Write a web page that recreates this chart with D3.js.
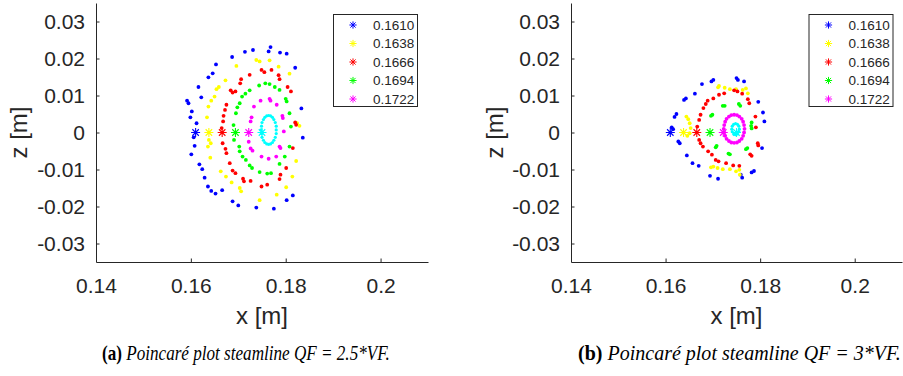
<!DOCTYPE html>
<html><head><meta charset="utf-8">
<script src="https://cdn.jsdelivr.net/npm/d3@7"></script>
<style>body{margin:0;background:#fff} svg{display:block}</style>
</head><body>
<svg id="chart" width="903" height="376"></svg>
<script>
// ---------- data ----------
const seriesLabels = ["0.1610","0.1638","0.1666","0.1694","0.1722"];
const startX = [0.1610,0.1638,0.1666,0.1694,0.1722,0.1750];
const xTicks = [0.14,0.16,0.18,0.2];
const zTicks = [-0.03,-0.02,-0.01,0,0.01,0.02,0.03];
const xDomain = [0.14,0.21];
const zDomain = [-0.035,0.035];
const captionA = {tag:"(a)", text:" Poincaré plot steamline QF = 2.5*VF."};
const captionB = {tag:"(b)", text:" Poincaré plot steamline QF = 3*VF."};

// panel (a): QF = 2.5*VF
const aBlue = [[0.1687,0.0204],[0.1714,0.0218],[0.1731,0.0223],[0.1764,0.0219],[0.1768,0.0231],[0.1788,0.0216],[0.1802,0.0213],[0.1820,0.0175],[0.1833,0.0065],[0.1836,-0.0014],[0.1653,0.0184],[0.1646,0.0160],[0.1637,0.0149],[0.1616,0.0123],[0.1622,0.0095],[0.1592,0.0086],[0.1595,0.0079],[0.1602,0.0057],[0.1599,0.0041],[0.1612,0.0025],[0.1606,-0.0013],[0.1608,-0.0036],[0.1601,-0.0059],[0.1618,-0.0086],[0.1624,-0.0099],[0.1629,-0.0122],[0.1636,-0.0146],[0.1643,-0.0158],[0.1652,-0.0165],[0.1666,-0.0156],[0.1688,-0.0186],[0.1700,-0.0197],[0.1738,-0.0203],[0.1775,-0.0206],[0.1802,-0.0183],[0.1815,-0.0170]];
const aYellow = [[0.1696,0.0180],[0.1673,0.0141],[0.1659,0.0123],[0.1654,0.0117],[0.1650,0.0097],[0.1643,0.0086],[0.1637,0.0070],[0.1634,0.0041],[0.1638,-0.0020],[0.1642,-0.0029],[0.1636,-0.0038],[0.1641,-0.0068],[0.1663,-0.0105],[0.1674,-0.0119],[0.1686,-0.0135],[0.1703,-0.0150],[0.1706,-0.0159],[0.1745,-0.0183],[0.1781,-0.0168],[0.1801,-0.0148],[0.1814,-0.0119],[0.1822,-0.0077],[0.1824,0.0025],[0.1829,0.0018],[0.1808,0.0159],[0.1785,0.0178],[0.1766,0.0195],[0.1745,0.0192],[0.1738,0.0196]];
const aRed = [[0.1706,0.0144],[0.1704,0.0133],[0.1694,0.0111],[0.1688,0.0108],[0.1684,0.0114],[0.1675,0.0075],[0.1672,0.0061],[0.1669,0.0045],[0.1668,0.0030],[0.1665,0.0012],[0.1667,-0.0029],[0.1673,-0.0044],[0.1675,-0.0056],[0.1682,-0.0083],[0.1688,-0.0103],[0.1694,-0.0110],[0.1710,-0.0125],[0.1712,-0.0132],[0.1726,-0.0131],[0.1749,-0.0146],[0.1761,-0.0141],[0.1787,-0.0126],[0.1789,-0.0114],[0.1801,-0.0096],[0.1815,-0.0042],[0.1820,0.0027],[0.1822,0.0021],[0.1811,0.0111],[0.1804,0.0123],[0.1787,0.0144],[0.1785,0.0155],[0.1770,0.0169],[0.1755,0.0163],[0.1749,0.0169],[0.1724,0.0156]];
const aGreen = [[0.1690,0.0020],[0.1695,0.0052],[0.1698,0.0068],[0.1703,0.0079],[0.1708,0.0097],[0.1715,0.0105],[0.1724,0.0114],[0.1744,0.0127],[0.1757,0.0133],[0.1766,0.0131],[0.1777,0.0123],[0.1787,0.0115],[0.1800,0.0091],[0.1802,0.0084],[0.1808,0.0052],[0.1811,0.0016],[0.1808,-0.0038],[0.1798,-0.0065],[0.1787,-0.0085],[0.1769,-0.0110],[0.1761,-0.0111],[0.1745,-0.0107],[0.1729,-0.0096],[0.1724,-0.0089],[0.1716,-0.0074],[0.1709,-0.0065],[0.1703,-0.0051],[0.1702,-0.0038],[0.1691,-0.0020]];
const aMagenta = [[0.1747,0.0086],[0.1766,0.0091],[0.1768,0.0086],[0.1781,0.0075],[0.1793,0.0045],[0.1794,0.0039],[0.1796,0.0003],[0.1787,-0.0038],[0.1789,-0.0042],[0.1780,-0.0065],[0.1764,-0.0071],[0.1749,-0.0065],[0.1730,-0.0049],[0.1726,-0.0043],[0.1722,-0.0025],[0.1726,0.0030],[0.1728,0.0041],[0.1733,0.0070]];
const aCyan = [[0.1780,0.0007],[0.1780,0.0017],[0.1778,0.0027],[0.1775,0.0035],[0.1772,0.0041],[0.1768,0.0045],[0.1764,0.0046],[0.1760,0.0045],[0.1756,0.0041],[0.1753,0.0035],[0.1750,0.0027],[0.1749,0.0017],[0.1748,0.0007],[0.1749,-0.0003],[0.1750,-0.0013],[0.1753,-0.0021],[0.1756,-0.0027],[0.1760,-0.0031],[0.1764,-0.0032],[0.1768,-0.0031],[0.1772,-0.0027],[0.1775,-0.0021],[0.1778,-0.0013],[0.1780,-0.0003]];

// panel (b): QF = 3*VF
const bBlue = [[0.1677,0.0131],[0.1697,0.0138],[0.1701,0.0142],[0.1750,0.0147],[0.1753,0.0142],[0.1766,0.0138],[0.1796,0.0083],[0.1806,0.0054],[0.1809,0.0030],[0.1804,-0.0042],[0.1787,-0.0104],[0.1782,-0.0108],[0.1762,-0.0122],[0.1759,-0.0114],[0.1711,-0.0125],[0.1694,-0.0117],[0.1670,-0.0090],[0.1657,-0.0083],[0.1645,-0.0062],[0.1630,-0.0029],[0.1627,-0.0024],[0.1616,0.0009],[0.1613,0.0014],[0.1619,0.0042],[0.1623,0.0050],[0.1639,0.0088],[0.1643,0.0092],[0.1662,0.0105]];
const bYellow = [[0.1711,0.0122],[0.1713,0.0126],[0.1725,0.0121],[0.1736,0.0117],[0.1749,0.0117],[0.1763,0.0115],[0.1770,0.0119],[0.1774,0.0106],[0.1644,0.0043],[0.1648,0.0036],[0.1651,0.0025],[0.1653,0.0012],[0.1651,-0.0002],[0.1646,-0.0009],[0.1696,-0.0094],[0.1701,-0.0092],[0.1710,-0.0096],[0.1721,-0.0099],[0.1736,-0.0099],[0.1749,-0.0105],[0.1756,-0.0101],[0.1757,-0.0114]];
const bRed = [[0.1689,0.0086],[0.1685,0.0077],[0.1680,0.0066],[0.1674,0.0048],[0.1671,0.0034],[0.1667,0.0016],[0.1671,-0.0020],[0.1674,-0.0029],[0.1679,-0.0038],[0.1690,-0.0051],[0.1698,-0.0060],[0.1706,-0.0074],[0.1712,-0.0078],[0.1728,-0.0083],[0.1743,-0.0089],[0.1756,-0.0090],[0.1779,-0.0059],[0.1782,-0.0063],[0.1795,-0.0029],[0.1796,-0.0035],[0.1791,0.0014],[0.1790,0.0043],[0.1777,0.0079],[0.1774,0.0090],[0.1762,0.0105],[0.1752,0.0111],[0.1745,0.0114],[0.1724,0.0106],[0.1713,0.0102],[0.1701,0.0092]];
const bGreen = [[0.1699,0.0048],[0.1696,0.0045],[0.1721,0.0072],[0.1725,0.0072],[0.1755,0.0077],[0.1758,0.0072],[0.1782,0.0027],[0.1781,0.0018],[0.1782,0.0011],[0.1770,-0.0045],[0.1773,-0.0042],[0.1733,-0.0057],[0.1736,-0.0059],[0.1708,-0.0036],[0.1706,-0.0040]];
const bMagenta = [[0.1767,0.0010],[0.1766,0.0020],[0.1764,0.0029],[0.1761,0.0037],[0.1756,0.0043],[0.1751,0.0047],[0.1745,0.0048],[0.1739,0.0047],[0.1734,0.0043],[0.1729,0.0037],[0.1726,0.0029],[0.1724,0.0020],[0.1723,0.0010],[0.1724,0.0000],[0.1726,-0.0009],[0.1729,-0.0017],[0.1734,-0.0023],[0.1739,-0.0027],[0.1745,-0.0028],[0.1751,-0.0027],[0.1756,-0.0023],[0.1761,-0.0017],[0.1764,-0.0009],[0.1766,0.0000]];
const bCyan = [[0.1756,0.0009],[0.1755,0.0017],[0.1752,0.0022],[0.1748,0.0024],[0.1744,0.0022],[0.1741,0.0017],[0.1740,0.0009],[0.1741,0.0002],[0.1744,-0.0004],[0.1748,-0.0006],[0.1752,-0.0004],[0.1755,0.0002]];

// ---------- styles ----------
const colors = ["#0000ff","#ffff00","#ff0000","#00ff00","#ff00ff","#00ffff"];
const axisColor = "#262626";
const sans = "'Liberation Sans', Arial, Helvetica, sans-serif";
const serif = "'Liberation Serif', 'Times New Roman', serif";

const svg = d3.select("#chart");

function starPath(s){
  const d = s*0.72;
  return `M${-s},0H${s}M0,${-s}V${s}M${-d},${-d}L${d},${d}M${-d},${d}L${d},${-d}`;
}
const fmt = v => String(+v.toFixed(3));

function panel(opt){
  const x = d3.scaleLinear().domain(xDomain).range([opt.left, opt.right]);
  const y = d3.scaleLinear().domain(zDomain).range([262, 3]);
  const g = svg.append("g");

  opt.series.forEach((pts, i) => {
    g.append("g").selectAll("circle").data(pts).enter().append("circle")
      .attr("cx", d => x(d[0])).attr("cy", d => y(d[1]))
      .attr("r", i === 5 ? 1.6 : 1.9).attr("fill", colors[i]);
  });
  startX.forEach((sx, i) => {
    g.append("path").attr("d", starPath(4.5))
      .attr("transform", `translate(${x(sx)},${y(0)})`)
      .attr("stroke", colors[i]).attr("stroke-width", 1.1).attr("fill", "none");
  });

  const xAxis = d3.axisBottom(x).tickValues(xTicks).tickFormat(fmt).tickSizeInner(-3.5).tickSizeOuter(0).tickPadding(14);
  const yAxis = d3.axisLeft(y).tickValues(zTicks).tickFormat(fmt).tickSizeInner(-3.5).tickSizeOuter(0).tickPadding(11);
  const gx = g.append("g").attr("transform", `translate(0,${y(zDomain[0])})`).call(xAxis);
  const gy = g.append("g").attr("transform", `translate(${x(xDomain[0])},0)`).call(yAxis);
  [gx, gy].forEach(a => {
    a.select(".domain").attr("stroke", axisColor).attr("stroke-width", 1);
    a.selectAll(".tick line").attr("stroke", axisColor);
    a.selectAll(".tick text").attr("fill", axisColor).attr("font-family", sans).attr("font-size", 21);
  });
  gx.selectAll(".tick text").attr("dy", "0.71em").attr("y", 16);

  g.append("text").attr("x", (opt.left + opt.right) / 2).attr("y", 324)
    .attr("text-anchor", "middle").attr("font-family", sans).attr("font-size", 24)
    .attr("fill", axisColor).text("x [m]");
  g.append("text").attr("transform", `translate(${opt.zLabelX},${y(0)}) rotate(-90)`)
    .attr("text-anchor", "middle").attr("font-family", sans).attr("font-size", 24)
    .attr("fill", axisColor).text("z [m]");

  const lg = g.append("g").attr("transform", `translate(${opt.legendX},14)`);
  lg.append("rect").attr("x", 0.5).attr("y", 0.5).attr("width", 84).attr("height", 92)
    .attr("fill", "#fff").attr("stroke", axisColor).attr("stroke-width", 1);
  seriesLabels.forEach((lab, i) => {
    const cy = 11 + i * 18.5;
    lg.append("path").attr("d", starPath(3.6)).attr("transform", `translate(20,${cy})`)
      .attr("stroke", colors[i]).attr("stroke-width", 1).attr("fill", "none");
    lg.append("text").attr("x", 40).attr("y", cy).attr("dy", "0.36em")
      .attr("font-family", sans).attr("font-size", 13.5).attr("fill", axisColor).text(lab);
  });

  // caption, fitted horizontally into its slot
  const cg = g.append("g");
  const cap = cg.append("text").attr("x", 0).attr("y", 0)
    .attr("font-family", serif).attr("font-size", 21).attr("fill", "#000");
  cap.append("tspan").attr("font-weight", "bold").text(opt.caption.tag);
  cap.append("tspan").attr("font-style", "italic").text(opt.caption.text);
  const w = cap.node().getComputedTextLength();
  const sxs = (opt.capEnd - opt.capStart) / w;
  cg.attr("transform", `translate(${opt.capStart},360) scale(${sxs},1)`);
}

panel({left: 96, right: 428, series: [aBlue, aYellow, aRed, aGreen, aMagenta, aCyan],
       legendX: 333, zLabelX: 27, capStart: 102, capEnd: 390, caption: captionA});
panel({left: 571, right: 902, series: [bBlue, bYellow, bRed, bGreen, bMagenta, bCyan],
       legendX: 808.5, zLabelX: 503, capStart: 578, capEnd: 901, caption: captionB});
</script>
</body></html>
